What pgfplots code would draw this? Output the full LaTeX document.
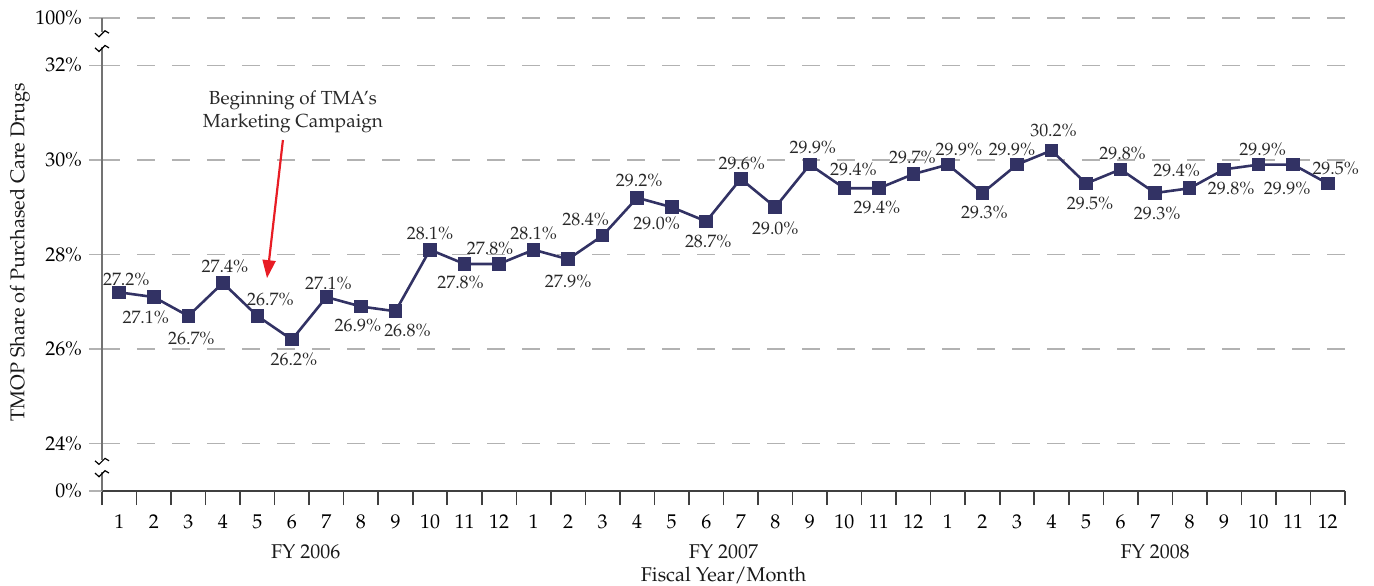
\documentclass[border=0pt]{standalone}
\usepackage[T1]{fontenc}
\usepackage{mathpazo}
\usepackage{pgfplots}
\pgfplotsset{compat=1.18}
\usetikzlibrary{calc,arrows.meta}

\definecolor{navy}{RGB}{50,50,100}
\definecolor{gridgray}{RGB}{178,178,178}
\definecolor{axisgray}{RGB}{115,115,115}
\definecolor{labgray}{RGB}{40,40,40}
\definecolor{arrowred}{RGB}{232,28,36}

% month, share (%), label offset dx/dy (px, 1px = 0.5bp)
\pgfplotstableread{
x  y    dx  dy
1  27.2  7  13
2  27.1 -8 -20
3  26.7  3 -22
4  27.4  2  16
5  26.7 13  17
6  26.2  2 -20
7  27.1  2  14
8  26.9 -3 -19
9  26.8 12 -19
10 28.1  0  16
11 27.8 -4 -19
12 27.8 -9  15
13 28.1  0  16
14 27.9  0 -22
15 28.4 -17 16
16 29.2  2  17
17 29.0 -15 -16
18 28.7  2 -20
19 29.6  1  15
20 29.0  0 -21
21 29.9  3  17
22 29.4  9  19
23 29.4 -2 -19
24 29.7 -1  17
25 29.9 11  15
26 29.3  2 -19
27 29.9 -5  15
28 30.2  2  20
29 29.5  4 -20
30 29.8  2  16
31 29.3  2 -20
32 29.4 -13 18
33 29.8  7 -19
34 29.9  4  15
35 29.9 -6 -24
36 29.5  8  15
}\sharetable

\tikzset{brk/.style={black, line width=0.6bp}}

\begin{document}
\begin{tikzpicture}
\begin{axis}[
  scale only axis,
  width=621.5bp, height=236.5bp,
  xmin=0.5, xmax=36.5,
  ymin=23, ymax=33,
  clip=false,
  axis lines*=left,
  x axis line style={black!75, line width=0.9bp},
  y axis line style={axisgray, line width=0.9bp},
  tick align=outside,
  xtick={1,...,36},
  xticklabels={1,2,3,4,5,6,7,8,9,10,11,12,1,2,3,4,5,6,7,8,9,10,11,12,1,2,3,4,5,6,7,8,9,10,11,12},
  major x tick style={draw=none},
  minor xtick={0.5,1.5,...,36.5},
  minor x tick style={black!75, line width=0.8bp},
  minor tick length=7bp,
  xticklabel style={anchor=center, yshift=-9bp},
  ytick={23,24,26,28,30,32,33},
  yticklabels={0\%,24\%,26\%,28\%,30\%,32\%,100\%},
  y tick style={gridgray, line width=0.7bp},
  major tick length=6.5bp,
  ymajorgrids,
  grid style={gridgray, line width=0.7bp, dash pattern=on 9bp off 8.5bp},
  tick label style={font=\fontsize{10}{12}\selectfont, text=black},
  xlabel={Fiscal Year/Month},
  ylabel={TMOP Share of Purchased Care Drugs},
  label style={font=\fontsize{10}{12}\selectfont, text=black!90},
  xlabel style={at={(axis description cs:0.5,-0.178)}, anchor=center},
  ylabel style={at={(axis description cs:-0.066,0.505)}, anchor=center},
]
\addplot[navy, line width=1.3bp, mark=square*, mark size=2.75bp,
  point meta=explicit,
  visualization depends on={\thisrow{dx}\as\ldx},
  visualization depends on={\thisrow{dy}\as\ldy},
  nodes near coords={\pgfmathprintnumber[fixed,fixed zerofill,precision=1]{\pgfplotspointmeta}\%},
  every node near coord/.append style={anchor=center, inner sep=0pt,
    xshift=\ldx*0.5bp, yshift=\ldy*0.5bp,
    font=\fontsize{9}{10}\selectfont, text=labgray},
] table[x=x, y=y, meta=y] {\sharetable};

% fiscal year labels
\node[font=\fontsize{10}{12}\selectfont, text=black!90, yshift=-30.5bp] at (axis cs:6.4,23) {FY 2006};
\node[font=\fontsize{10}{12}\selectfont, text=black!90, yshift=-30.5bp] at (axis cs:18.5,23) {FY 2007};
\node[font=\fontsize{10}{12}\selectfont, text=black!90, yshift=-30.5bp] at (axis cs:31,23) {FY 2008};

% annotation
\node[font=\fontsize{9.5}{11.5}\selectfont, text=labgray, align=center] at (axis cs:6.03,31.02)
  {Beginning of TMA's\\Marketing Campaign};
\draw[arrowred, line width=1.1bp, -{Triangle[length=9bp,width=6.5bp]}]
  (axis cs:5.74,30.42) -- (axis cs:5.28,27.50);

% axis breaks
\fill[white] ($(axis cs:0.5,32.70)+(-1.5bp,0bp)$) rectangle ($(axis cs:0.5,32.39)+(1.5bp,0bp)$);
\draw[brk] ($(axis cs:0.5,32.70)+(-3.5bp,-0.5bp)$) -- ++(2bp,-1.8bp) -- ++(3bp,3bp) -- ++(2bp,-1.2bp);
\draw[brk] ($(axis cs:0.5,32.39)+(-3.5bp,-0.5bp)$) -- ++(2bp,-1.8bp) -- ++(3bp,3bp) -- ++(2bp,-1.2bp);
\fill[white] ($(axis cs:0.5,23.66)+(-1.5bp,0bp)$) rectangle ($(axis cs:0.5,23.40)+(1.5bp,0bp)$);
\draw[brk] ($(axis cs:0.5,23.66)+(-3.5bp,-0.5bp)$) -- ++(2bp,-1.8bp) -- ++(3bp,3bp) -- ++(2bp,-1.2bp);
\draw[brk] ($(axis cs:0.5,23.40)+(-3.5bp,-0.5bp)$) -- ++(2bp,-1.8bp) -- ++(3bp,3bp) -- ++(2bp,-1.2bp);
\end{axis}
\pgfresetboundingbox
\path ($(current axis.south west)+(-51bp,-47.5bp)$) rectangle ($(current axis.north east)+(14.5bp,9bp)$);
\end{tikzpicture}
\end{document}
